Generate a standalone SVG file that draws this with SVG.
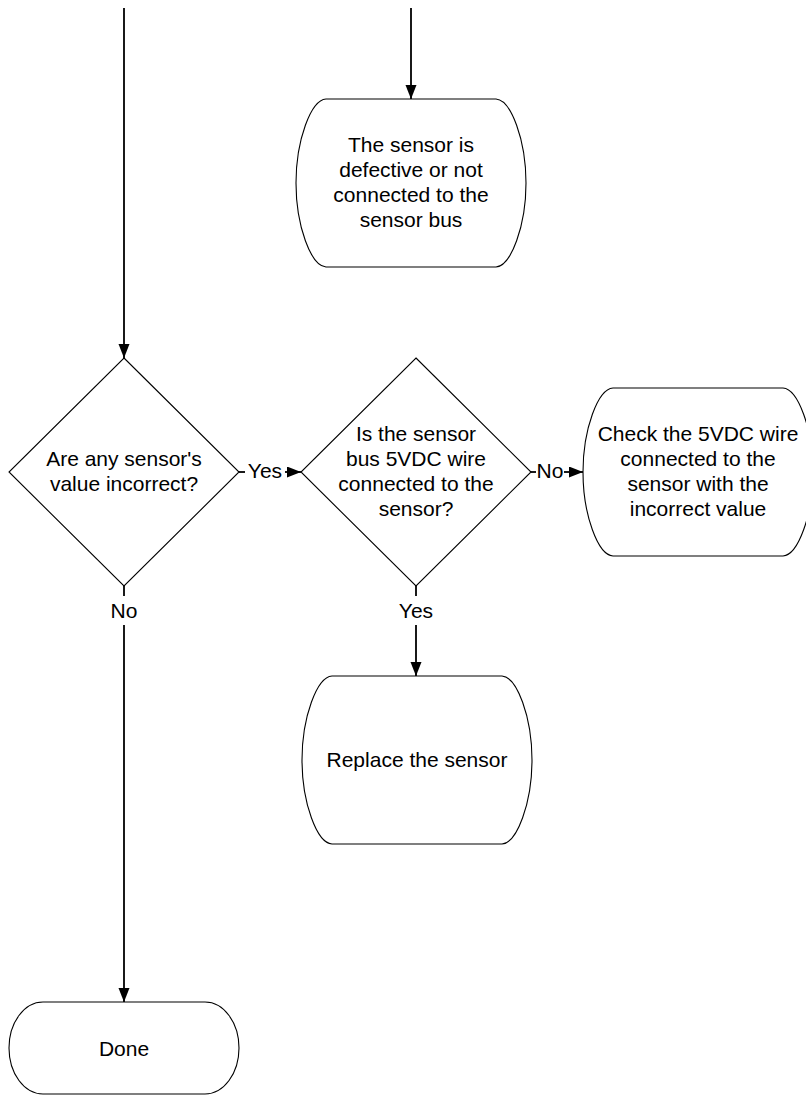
<svg xmlns="http://www.w3.org/2000/svg" width="806" height="1097" viewBox="0 0 806 1097">
<style>
.shape{fill:#fff;stroke:#000;stroke-width:1.1}
.conn{fill:none;stroke:#000;stroke-width:1.8}
.t{font-family:"Liberation Sans",Arial,sans-serif;font-size:21px;fill:#000;text-anchor:middle}
</style>
<defs>
<marker id="arr" markerUnits="userSpaceOnUse" markerWidth="15" markerHeight="12" refX="14" refY="5.5" orient="auto">
<path d="M0,0 L14,5.5 L0,11 Z" fill="#000"/>
</marker>
</defs>
<rect width="806" height="1097" fill="#fff"/>
<g id="connectors">
<line class="conn" x1="124" y1="8" x2="124" y2="358" marker-end="url(#arr)"/>
<line class="conn" x1="411" y1="8" x2="411" y2="99" marker-end="url(#arr)"/>
<line class="conn" x1="239" y1="472" x2="245" y2="472"/>
<line class="conn" x1="285" y1="472" x2="301" y2="472" marker-end="url(#arr)"/>
<line class="conn" x1="124" y1="586" x2="124" y2="596"/>
<line class="conn" x1="124" y1="625" x2="124" y2="1002" marker-end="url(#arr)"/>
<line class="conn" x1="416" y1="586" x2="416" y2="596"/>
<line class="conn" x1="416" y1="625" x2="416" y2="676" marker-end="url(#arr)"/>
<line class="conn" x1="531" y1="472" x2="536" y2="472"/>
<line class="conn" x1="564" y1="472" x2="583" y2="472" marker-end="url(#arr)"/>
<text class="t" x="265" y="478">Yes</text>
<text class="t" x="124" y="618">No</text>
<text class="t" x="416" y="618">Yes</text>
<text class="t" x="550" y="478">No</text>
</g>
<g id="node-defective">
<path class="shape" d="M326,99 L496,99 C511,100 526,140 526,183 C526,226 511,266 496,267 L326,267 C311,266 296,226 296,183 C296,140 311,100 326,99 Z"/>
<text class="t" x="411" y="152">The sensor is</text>
<text class="t" x="411" y="177">defective or not</text>
<text class="t" x="411" y="202">connected to the</text>
<text class="t" x="411" y="227">sensor bus</text>
</g>
<g id="node-incorrect">
<path class="shape" d="M124,358 L239,472 L124,586 L9,472 Z"/>
<text class="t" x="124" y="466">Are any sensor's</text>
<text class="t" x="124" y="491">value incorrect?</text>
</g>
<g id="node-5vdc">
<path class="shape" d="M416,358 L531,472 L416,586 L301,472 Z"/>
<text class="t" x="416" y="441">Is the sensor</text>
<text class="t" x="416" y="466">bus 5VDC wire</text>
<text class="t" x="416" y="491">connected to the</text>
<text class="t" x="416" y="516">sensor?</text>
</g>
<g id="node-check">
<path class="shape" d="M613,388 L783,388 C798,389 813,429 813,472 C813,515 798,555 783,556 L613,556 C598,555 583,515 583,472 C583,429 598,389 613,388 Z"/>
<text class="t" x="698" y="441">Check the 5VDC wire</text>
<text class="t" x="698" y="466">connected to the</text>
<text class="t" x="698" y="491">sensor with the</text>
<text class="t" x="698" y="516">incorrect value</text>
</g>
<g id="node-replace">
<path class="shape" d="M332,676 L502,676 C517,677 532,717 532,760 C532,803 517,843 502,844 L332,844 C317,843 302,803 302,760 C302,717 317,677 332,676 Z"/>
<text class="t" x="417" y="767">Replace the sensor</text>
</g>
<g id="node-done">
<path class="shape" d="M43,1002 L205,1002 A34,46 0 0 1 205,1094 L43,1094 A34,46 0 0 1 43,1002 Z"/>
<text class="t" x="124" y="1056">Done</text>
</g>
</svg>
